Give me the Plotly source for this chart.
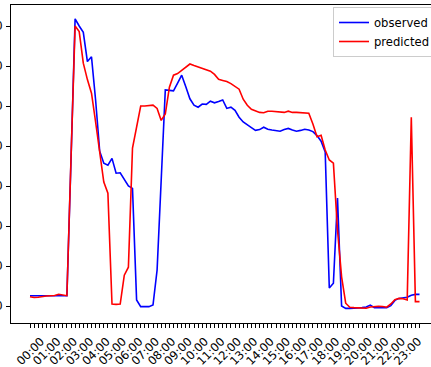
import plotly.graph_objects as go

times = [f"{h:02d}:{m:02d}" for h in range(24) for m in (0, 15, 30, 45)]

observed = [128, 127, 128, 128, 129, 128, 128, 129, 128, 128,
            1820, 3590, 3500, 3420, 3055, 3115, 2575, 1935, 1785, 1760,
            1845, 1660, 1665, 1575, 1500, 1470, 75, -8, -8, -8,
            12, 450, 1575, 2700, 2695, 2690, 2785, 2885, 2740, 2590,
            2510, 2485, 2525, 2520, 2560, 2540, 2555, 2575, 2470, 2485,
            2445, 2360, 2300, 2270, 2230, 2195, 2205, 2235, 2210, 2200,
            2195, 2185, 2205, 2220, 2200, 2185, 2195, 2210, 2200, 2180,
            2130, 2060, 1925, 225, 285, 1350, 0, -30, -30, -30,
            -25, -20, -12, 12, -20, -20, -20, -20, 5, 70,
            95, 105, 110, 135, 145, 145]

predicted = [116, 106, 109, 119, 125, 128, 131, 146, 137, 129,
             1840, 3500, 3430, 3035, 2830, 2660, 2300, 1950, 1550, 1410,
             25, 20, 25, 385, 485, 1975, 2260, 2500, 2500, 2505,
             2510, 2470, 2320, 2400, 2735, 2885, 2905, 2945, 2985, 3025,
             3005, 2985, 2970, 2955, 2935, 2895, 2835, 2820, 2805, 2780,
             2745, 2710, 2585, 2510, 2460, 2435, 2420, 2415, 2435, 2435,
             2430, 2425, 2420, 2435, 2420, 2420, 2415, 2410, 2410, 2275,
             2115, 2135, 1950, 1825, 1785, 950, 365, 35, -15, -20,
             -22, -25, -28, -12, -6, -4, -6, -15, 25, 80,
             95, 90, 75, 2360, 55, 55]

hour_labels = ["00:00", "01:00", "02:00", "03:00", "04:00", "05:00", "06:00", "07:00",
               "08:00", "09:00", "10:00", "11:00", "12:00", "13:00", "14:00", "15:00",
               "16:00", "17:00", "18:00", "19:00", "20:00", "21:00", "22:00", "23:00"]

y_ticks = [0, 500, 1000, 1500, 2000, 2500, 3000, 3500]

tick_text = [t if t in hour_labels else "" for t in times]

FONT = "DejaVu Sans"

fig = go.Figure()
fig.add_trace(go.Scatter(x=times, y=observed, mode="lines", name="observed",
                         line=dict(color="#0000ff", width=1.6)))
fig.add_trace(go.Scatter(x=times, y=predicted, mode="lines", name="predicted",
                         line=dict(color="#ff0000", width=1.6)))

fig.update_layout(
    width=431, height=367,
    template="none",
    paper_bgcolor="white", plot_bgcolor="white",
    margin=dict(l=11, r=0, t=5, b=44, autoexpand=False),
    font=dict(family=FONT, size=11.6, color="#000"),
    showlegend=True,
    legend=dict(x=(333 - 11) / 420, xanchor="left", y=1 - 2 / 318, yanchor="top",
                bordercolor="#cccccc", borderwidth=1, bgcolor="rgba(255,255,255,0.8)",
                font=dict(family=FONT, size=11.6, color="#000")),
    xaxis=dict(type="category", range=[-4.634, 97.805], autorange=False,
               tickmode="array", tickvals=times, ticktext=tick_text,
               tickangle=-45, ticks="outside", ticklen=4, tickwidth=1, tickcolor="#000",
               showline=True, linecolor="#000", linewidth=1, mirror=True,
               showgrid=False, zeroline=False, automargin=False,
               ticklabelshift=11, ticklabelstandoff=2,
               tickfont=dict(family=FONT, size=11.6, color="#000")),
    yaxis=dict(range=[-212.5, 3762.5], autorange=False,
               tickmode="array", tickvals=y_ticks,
               ticks="outside", ticklen=4, tickwidth=1, tickcolor="#000",
               showline=True, linecolor="#000", linewidth=1, mirror=False,
               showgrid=False, zeroline=False, automargin=False,
               ticklabelstandoff=1,
               tickfont=dict(family=FONT, size=11.6, color="#000")),
)

fig.write_html("out.html", config={"displayModeBar": False},
               post_script="document.body.style.margin='0';document.body.style.padding='0';"
                           "document.body.style.overflow='hidden';")
